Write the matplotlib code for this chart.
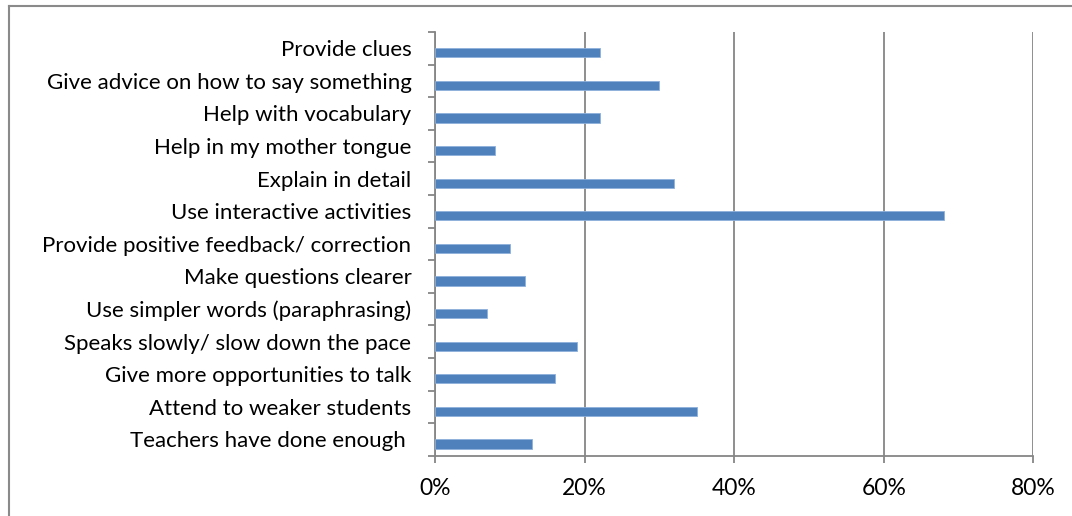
import matplotlib
matplotlib.use("Agg")
import matplotlib.pyplot as plt
from matplotlib.lines import Line2D
from matplotlib.ticker import FuncFormatter, FixedLocator

categories = [
    "Provide clues",
    "Give advice on how to say something",
    "Help with vocabulary",
    "Help in my mother tongue",
    "Explain in detail",
    "Use interactive activities",
    "Provide positive feedback/ correction",
    "Make questions clearer",
    "Use simpler words (paraphrasing)",
    "Speaks slowly/ slow down the pace",
    "Give more opportunities to talk",
    "Attend to weaker students",
    "Teachers have done enough ",
]
values = [0.22, 0.30, 0.22, 0.08, 0.32, 0.68, 0.10, 0.12, 0.07, 0.19, 0.16, 0.35, 0.13]
x_ticks = [0, 0.2, 0.4, 0.6, 0.8]

W, H = 1072, 516
fig = plt.figure(figsize=(W / 100, H / 100), dpi=100)
fig.patch.set_facecolor("white")

ax = fig.add_axes([435 / W, 1 - 455.7 / H, (1033.3 - 435) / W, (455.7 - 32) / H])

n = len(categories)
ypos = list(range(n))[::-1]
bar_offset = 0.14  # bars sit slightly below the category centre (as in the source chart)
ax.barh([y - bar_offset for y in ypos], values, height=0.28, color="#4F81BD",
        edgecolor="#8DB0DB", linewidth=0.6, zorder=3)

ax.set_xlim(0, 0.8)
ax.set_ylim(-0.5, n - 0.5)
ax.set_yticks(ypos)
ax.set_yticklabels(categories)
ax.yaxis.set_minor_locator(FixedLocator([i - 0.5 for i in range(n + 1)]))
ax.tick_params(axis="y", which="major", length=0, pad=17)
ax.tick_params(axis="y", which="minor", length=5, width=1.3, color="#868686", direction="out")

ax.set_xticks(x_ticks)
ax.xaxis.set_major_formatter(FuncFormatter(lambda v, p: f"{int(round(v * 100))}%"))
ax.tick_params(axis="x", length=5, width=1.3, color="#868686", direction="out", pad=11)

for lab in ax.get_yticklabels():
    lab.set_fontfamily("Lato")
    lab.set_fontsize(16)
    lab.set_color("black")
for lab in ax.get_xticklabels():
    lab.set_fontfamily("Lato")
    lab.set_fontsize(16.5)
    lab.set_color("black")

ax.grid(axis="x", color="#868686", linewidth=1.3, zorder=0)
for s in ["top", "right"]:
    ax.spines[s].set_visible(False)
for s in ["left", "bottom"]:
    ax.spines[s].set_color("#868686")
    ax.spines[s].set_linewidth(1.3)

# outer chart border (top and left visible)
fig.add_artist(Line2D([9 / W, 9 / W], [0, 1 - 6 / H], transform=fig.transFigure, color="#8A8A8A", linewidth=1.5))
fig.add_artist(Line2D([9 / W, 1], [1 - 6 / H, 1 - 6 / H], transform=fig.transFigure, color="#8A8A8A", linewidth=1.5))

fig.savefig("out.png", dpi=100, facecolor="white")
